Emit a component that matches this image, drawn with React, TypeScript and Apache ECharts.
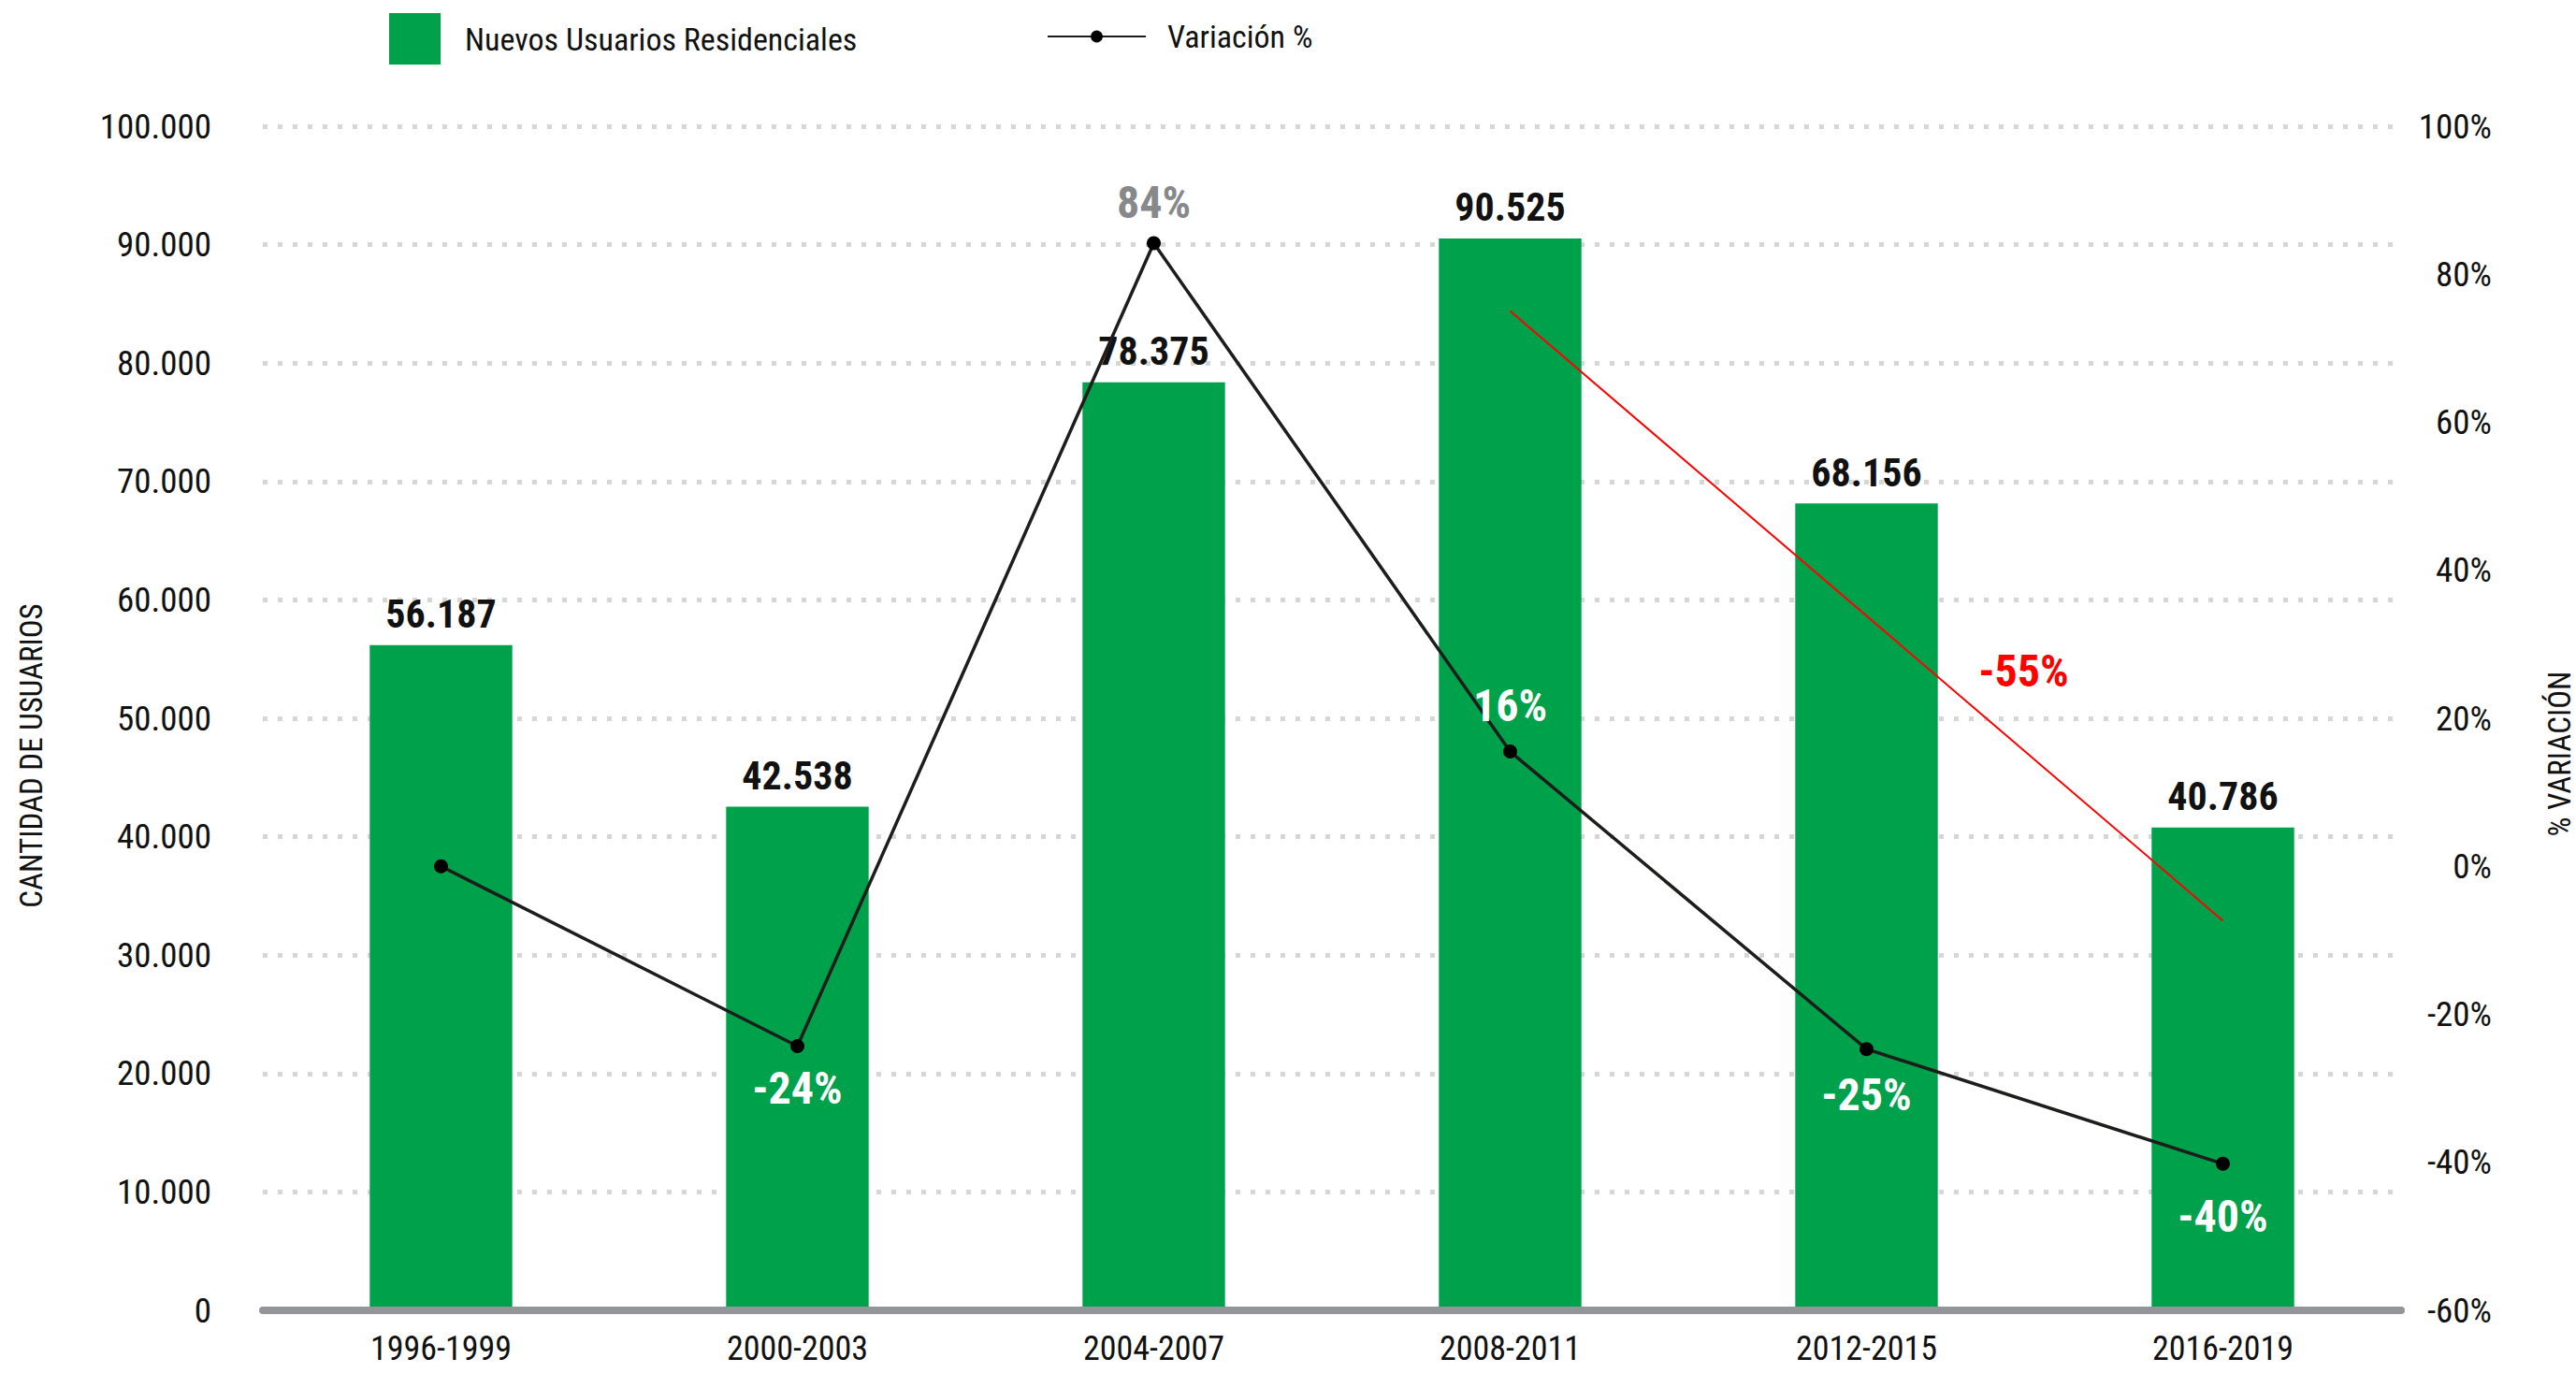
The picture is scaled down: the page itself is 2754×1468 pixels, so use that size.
import React, { useEffect, useRef } from "react";
import * as echarts from "echarts";

const categories = ["1996-1999", "2000-2003", "2004-2007", "2008-2011", "2012-2015", "2016-2019"];
const usuarios = [56187, 42538, 78375, 90525, 68156, 40786];
const variacion = [0, -24.3, 84.2, 15.5, -24.7, -40.2];
const trendCategories = ["2008-2011", "2016-2019"];
const trendValues = [84400, 32900];
const trendLabel = "-55%";
const trendLabelAnchor = { category: "2012-2015", value: 54000 };

const leftTicks = { min: 0, max: 100000, interval: 10000 };
const rightTicks = { min: -60, max: 100, interval: 20 };

const FONT = "'Roboto Condensed', 'Liberation Sans Narrow', Roboto, sans-serif";
const GREEN = "#00a14b";

function fmtThousands(v: number): string {
  return String(v).replace(/\B(?=(\d{3})+(?!\d))/g, ".");
}

export default function App() {
  const ref = useRef<HTMLDivElement>(null);

  useEffect(() => {
    document.body.style.margin = "0";
    const chart = echarts.init(ref.current!, null, { renderer: "svg" });

    const lineLabelCfg = [
      { show: false },
      { show: true, position: "bottom", distance: 13, color: "#ffffff" },
      { show: true, position: "top", distance: 12, color: "#87888c" },
      { show: true, position: "top", distance: 18, color: "#ffffff" },
      { show: true, position: "bottom", distance: 17, color: "#ffffff" },
      { show: true, position: "bottom", distance: 25, color: "#ffffff" },
    ];

    const option: any = {
      animation: false,
      textStyle: { fontFamily: FONT },
      grid: { left: 281, right: 187, top: 135, bottom: 67, containLabel: false },
      legend: [
        {
          data: ["Nuevos Usuarios Residenciales"],
          left: 416,
          top: 14,
          padding: 0,
          itemWidth: 55,
          itemHeight: 55,
          icon: "rect",
          textStyle: { fontFamily: FONT, fontSize: 34, color: "#111", padding: [0, 0, 2, 21] },
        },
        {
          data: ["Variación %"],
          left: 1119,
          top: 22,
          padding: 0,
          itemWidth: 105,
          itemHeight: 16,
          textStyle: { fontFamily: FONT, fontSize: 34, color: "#111", padding: [0, 0, 0, 18] },
        },
      ],
      xAxis: {
        type: "category",
        data: categories,
        axisLine: { show: true, lineStyle: { color: "#939598", width: 8 } },
        axisTick: { show: false },
        axisLabel: { fontFamily: FONT, fontSize: 36, lineHeight: 36, color: "#111", margin: 23 },
        z: 5,
      },
      yAxis: [
        {
          type: "value",
          min: leftTicks.min,
          max: leftTicks.max,
          interval: leftTicks.interval,
          axisLine: { show: false },
          axisTick: { show: false },
          axisLabel: {
            fontFamily: FONT,
            fontSize: 37,
            color: "#111",
            margin: 55,
            formatter: (v: number) => fmtThousands(v),
          },
          splitLine: {
            show: true,
            lineStyle: { color: "#d6d6d6", width: 5, type: [5, 11] },
          },
        },
        {
          type: "value",
          min: rightTicks.min,
          max: rightTicks.max,
          interval: rightTicks.interval,
          axisLine: { show: false },
          axisTick: { show: false },
          splitLine: { show: false },
          axisLabel: {
            fontFamily: FONT,
            fontSize: 37,
            color: "#111",
            margin: 97,
            align: "right",
            formatter: "{value}%",
          },
        },
      ],
      graphic: [
        {
          type: "text",
          x: 33,
          y: 808,
          rotation: Math.PI / 2,
          style: {
            text: "CANTIDAD DE USUARIOS",
            fontFamily: FONT,
            fontSize: 33,
            fill: "#111",
            textAlign: "center",
            textVerticalAlign: "middle",
          },
        },
        {
          type: "text",
          x: 2736,
          y: 806,
          rotation: Math.PI / 2,
          style: {
            text: "% VARIACIÓN",
            fontFamily: FONT,
            fontSize: 33,
            fill: "#111",
            textAlign: "center",
            textVerticalAlign: "middle",
          },
        },
      ],
      series: [
        {
          name: "Nuevos Usuarios Residenciales",
          type: "bar",
          data: usuarios,
          barWidth: "40%",
          itemStyle: { color: GREEN },
          label: {
            show: true,
            position: "top",
            distance: 12,
            fontFamily: FONT,
            fontSize: 42,
            fontWeight: "bold",
            color: "#111",
            formatter: (p: any) => fmtThousands(p.value),
          },
          z: 2,
        },
        {
          name: "Variación %",
          type: "line",
          yAxisIndex: 1,
          data: variacion.map((v, i) => ({ value: v, label: lineLabelCfg[i] })),
          symbol: "circle",
          symbolSize: 15,
          lineStyle: { color: "#1d1d1b", width: 3.5 },
          itemStyle: { color: "#000000" },
          label: {
            show: true,
            fontFamily: FONT,
            fontSize: 48,
            fontWeight: "bold",
            formatter: (p: any) => Math.round(p.value) + "%",
          },
          z: 4,
        },
        {
          name: "Tendencia",
          type: "line",
          yAxisIndex: 0,
          data: trendCategories.map((c, i) => [c, trendValues[i]]),
          symbol: "none",
          lineStyle: { color: "#ff0000", width: 2 },
          itemStyle: { color: "#ff0000" },
          z: 3,
          markPoint: {
            symbol: "circle",
            symbolSize: 0,
            data: [
              {
                coord: [trendLabelAnchor.category, trendLabelAnchor.value],
                label: {
                  show: true,
                  formatter: trendLabel,
                  offset: [168, 0],
                  fontFamily: FONT,
                  fontSize: 48,
                  fontWeight: "bold",
                  color: "#ff0000",
                },
              },
            ],
          },
        },
      ],
    };

    chart.setOption(option);
    return () => chart.dispose();
  }, []);

  return (
    <div
      ref={ref}
      style={{ position: "absolute", left: 0, top: 0, width: 2754, height: 1468, background: "#fff" }}
    />
  );
}
